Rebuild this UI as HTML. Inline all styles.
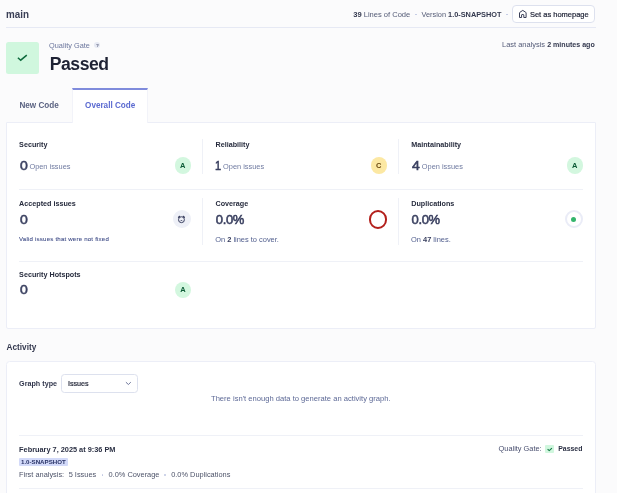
<!DOCTYPE html>
<html><head><meta charset="utf-8">
<style>
*{box-sizing:border-box;margin:0;padding:0}
html,body{width:617px;height:493px;overflow:hidden}
body{background:#fbfbfc;font-family:"Liberation Sans",Arial,sans-serif;color:#2a2f40;position:relative}
#root{position:absolute;left:0;top:0;width:617px;height:493px;will-change:transform}
.a{position:absolute;white-space:nowrap;line-height:1}
.card{position:absolute;background:#fff;border:1px solid #eceef7}
</style></head><body><div id="root">
<div class="a" id="main" style="left:5.9px;top:8.89px;font-size:11px;color:#3a3f56;font-weight:700;transform:scaleX(0.895);transform-origin:0 0;">main</div>
<div class="a" id="loc" style="left:353.2px;top:10.71px;font-size:7.55px;color:#535a75;"><b style="color:#33384e">39</b> Lines of Code</div>
<div class="a" style="left:415.4px;top:13.6px;width:1.6px;height:1.6px;border-radius:50%;background:#bfc6e2"></div>
<div class="a" id="ver" style="left:421.5px;top:10.88px;font-size:7.35px;color:#535a75;">Version <b style="color:#33384e">1.0-SNAPSHOT</b></div>
<div class="a" style="left:506.0px;top:13.6px;width:1.6px;height:1.6px;border-radius:50%;background:#bfc6e2"></div>
<div class="a" style="left:511.9px;top:5.2px;width:83.6px;height:17.9px;border:1px solid #dde1ee;border-radius:4px;background:#fff"></div>
<svg class="a" style="left:516px;top:8px" width="14" height="12" viewBox="0 0 14 12"><path d="M3.5 9.5 V5 Q3.5 4.6 3.8 4.35 L6.8 2.4 L9.8 4.35 Q10.1 4.6 10.1 5 V9.5 H7.8 V7 Q7.8 6.5 7.3 6.5 H6.1 Q5.6 6.5 5.6 7 V9.5 Z" fill="none" stroke="#3a3f58" stroke-width="1" stroke-linejoin="round"/></svg>
<div class="a" id="home" style="left:529.9px;top:10.85px;font-size:7.5px;color:#23273a;-webkit-text-stroke:0.2px #23273a;">Set as homepage</div>
<div class="a" style="left:6px;top:26.5px;width:589.5px;height:1px;background:#e6e9f4"></div>
<div class="a" style="left:6.3px;top:41.8px;width:32.6px;height:32.2px;background:#d0f7de;border-radius:2.5px"></div>
<svg class="a" style="left:16px;top:53px" width="12" height="9" viewBox="0 0 12 9"><path d="M1.9 4.75 L4.7 7.2 L10.8 2.2" fill="none" stroke="#0d6a3c" stroke-width="1.5"/></svg>
<div class="a" id="qg" style="left:49.1px;top:42.09px;font-size:7.34px;color:#6b769d;">Quality Gate</div>
<div class="a" style="left:94.3px;top:42px;width:6px;height:6px;border-radius:50%;background:#e6e9f3"></div>
<div class="a" style="left:96.3px;top:43.84px;font-size:4.2px;color:#4a5070;font-weight:700;">?</div>
<div class="a" id="passed" style="left:49.7px;top:55.50px;font-size:17.6px;color:#1e2234;font-weight:700;letter-spacing:-0.45px;">Passed</div>
<div class="a" id="last" style="left:502.1px;top:41.49px;font-size:7.45px;color:#545b78;">Last analysis <b style="font-size:7.09px;color:#33384e">2 minutes ago</b></div>
<div class="a" id="newcode" style="left:19.4px;top:101.98px;font-size:8.17px;color:#5b6382;font-weight:700;">New Code</div>
<div class="a" style="left:72px;top:88px;width:75.5px;height:35px;background:#fff;border-top:2px solid #7f8bdc;border-left:1px solid #f2f3f9;border-right:1px solid #f2f3f9;z-index:2"></div>
<div class="a" id="overall" style="left:85.1px;top:102.00px;font-size:8.15px;color:#5b6ad1;font-weight:700;z-index:3">Overall Code</div>
<div class="card" style="left:6px;top:122px;width:589.5px;height:206.5px;border-radius:0 0 2px 2px"></div>
<div class="a" style="left:19.1px;top:141.01px;font-size:7.2px;color:#262b3d;font-weight:700;">Security</div>
<div class="a" style="left:19.6px;top:159.00px;font-size:13px;color:#3a4060;-webkit-text-stroke:0.55px #3a4060;transform:scaleX(1.08);transform-origin:0 0;">0</div>
<div class="a" style="left:29.400000000000002px;top:163.44px;font-size:7.4px;color:#6f7aa0;">Open issues</div>
<div class="a" style="left:215.5px;top:141.01px;font-size:7.2px;color:#262b3d;font-weight:700;">Reliability</div>
<div class="a" style="left:215.4px;top:159.00px;font-size:13px;color:#3a4060;-webkit-text-stroke:0.55px #3a4060;transform:scaleX(0.85);transform-origin:0 0;">1</div>
<div class="a" style="left:223.1px;top:163.44px;font-size:7.4px;color:#6f7aa0;">Open issues</div>
<div class="a" style="left:411.2px;top:141.01px;font-size:7.2px;color:#262b3d;font-weight:700;">Maintainability</div>
<div class="a" style="left:411.7px;top:159.00px;font-size:13px;color:#3a4060;-webkit-text-stroke:0.55px #3a4060;transform:scaleX(1.08);transform-origin:0 0;">4</div>
<div class="a" style="left:421.8px;top:163.44px;font-size:7.4px;color:#6f7aa0;">Open issues</div>
<div class="a" style="left:174.6px;top:157.4px;width:16.2px;height:16.2px;border-radius:50%;background:#d3f7df"></div>
<div class="a" style="left:180.1px;top:162.15px;font-size:7.5px;color:#0b5a35;font-weight:700;">A</div>
<div class="a" style="left:370.59999999999997px;top:157.4px;width:16.2px;height:16.2px;border-radius:50%;background:#fce8a3"></div>
<div class="a" style="left:376.09999999999997px;top:162.15px;font-size:7.5px;color:#6a4810;font-weight:700;">C</div>
<div class="a" style="left:566.6px;top:157.4px;width:16.2px;height:16.2px;border-radius:50%;background:#d3f7df"></div>
<div class="a" style="left:572.1px;top:162.15px;font-size:7.5px;color:#0b5a35;font-weight:700;">A</div>
<div class="a" style="left:202.2px;top:139.2px;width:1px;height:34.8px;background:#eff1f7"></div>
<div class="a" style="left:398.2px;top:139.2px;width:1px;height:34.8px;background:#eff1f7"></div>
<div class="a" style="left:19px;top:189px;width:564px;height:1px;background:#eff1f7"></div>
<div class="a" style="left:19.1px;top:200.31px;font-size:7.2px;color:#262b3d;font-weight:700;">Accepted issues</div>
<div class="a" style="left:19.5px;top:213.20px;font-size:13px;color:#3a4060;-webkit-text-stroke:0.55px #3a4060;transform:scaleX(1.08);transform-origin:0 0;">0</div>
<div class="a" style="left:19.05px;top:235.94px;font-size:6.1px;color:#44518a;letter-spacing:0.2px;-webkit-text-stroke:0.1px #44518a;">Valid issues that were not fixed</div>
<div class="a" style="left:172.7px;top:210.3px;width:18px;height:18px;border-radius:50%;background:#eef0f7"></div>
<svg class="a" style="left:174px;top:212px" width="16" height="15" viewBox="0 0 16 15"><circle cx="7.45" cy="7.7" r="2.95" fill="none" stroke="#3a4060" stroke-width="1"/><path d="M4.5 5.3 L5.7 4.3 M10.4 5.3 L9.2 4.3" fill="none" stroke="#3a4060" stroke-width="1.2" stroke-linecap="round"/><path d="M6.6 9.1 L7.45 8.2 L8.3 9.1" fill="none" stroke="#3a4060" stroke-width="0.9"/></svg>
<div class="a" style="left:202.2px;top:198px;width:1px;height:47px;background:#eff1f7"></div>
<div class="a" style="left:215.5px;top:200.11px;font-size:7.2px;color:#262b3d;font-weight:700;">Coverage</div>
<div class="a" style="left:215.8px;top:212.90px;font-size:13px;color:#3a4060;letter-spacing:-0.35px;-webkit-text-stroke:0.55px #3a4060;">0.0%</div>
<div class="a" style="left:215.2px;top:235.99px;font-size:7.45px;color:#53608f;">On <b style="color:#3a4060">2</b> lines to cover.</div>
<div class="a" style="left:368.5px;top:210.2px;width:18.4px;height:18.4px;border-radius:50%;border:2.2px solid #b3201c"></div>
<div class="a" style="left:398.2px;top:198px;width:1px;height:47px;background:#eff1f7"></div>
<div class="a" style="left:411.2px;top:200.11px;font-size:7.2px;color:#262b3d;font-weight:700;">Duplications</div>
<div class="a" style="left:411.5px;top:212.90px;font-size:13px;color:#3a4060;letter-spacing:-0.35px;-webkit-text-stroke:0.55px #3a4060;">0.0%</div>
<div class="a" style="left:411.0px;top:235.99px;font-size:7.45px;color:#53608f;">On <b style="color:#3a4060">47</b> lines.</div>
<div class="a" style="left:565px;top:210.3px;width:18px;height:18px;border-radius:50%;border:2.2px solid #eaecf7"></div>
<div class="a" style="left:571.4px;top:216.7px;width:5.1px;height:5.1px;border-radius:50%;background:#34b56c"></div>
<div class="a" style="left:19px;top:261px;width:564px;height:1px;background:#eff1f7"></div>
<div class="a" style="left:19.1px;top:271.31px;font-size:7.2px;color:#262b3d;font-weight:700;">Security Hotspots</div>
<div class="a" style="left:19.5px;top:283.10px;font-size:13px;color:#3a4060;-webkit-text-stroke:0.55px #3a4060;transform:scaleX(1.08);transform-origin:0 0;">0</div>
<div class="a" style="left:174.8px;top:281.79999999999995px;width:16.2px;height:16.2px;border-radius:50%;background:#d3f7df"></div>
<div class="a" style="left:180.3px;top:285.75px;font-size:7.5px;color:#0b5a35;font-weight:700;">A</div>
<div class="a" id="activity" style="left:6.5px;top:343.82px;font-size:8.25px;color:#33384e;font-weight:700;">Activity</div>
<div class="card" style="left:6px;top:361px;width:589.5px;height:140px;border-radius:3.5px"></div>
<div class="a" style="left:19.1px;top:380.01px;font-size:7.2px;color:#33384e;font-weight:700;">Graph type</div>
<div class="a" style="left:61.1px;top:374.1px;width:76.6px;height:18.9px;border:1px solid #dde1ee;border-radius:3.5px;background:#fff"></div>
<div class="a" style="left:67.9px;top:380.01px;font-size:7.2px;color:#1e2234;-webkit-text-stroke:0.2px #1e2234;">Issues</div>
<svg class="a" style="left:125px;top:381px" width="7" height="5" viewBox="0 0 7 5"><path d="M0.9 1.2 L3.4 3.5 L5.8 1.2" fill="none" stroke="#5f6990" stroke-width="0.9"/></svg>
<div class="a" id="nodata" style="left:211px;top:394.67px;font-size:7.6px;color:#5d6996;">There isn't enough data to generate an activity graph.</div>
<div class="a" style="left:19px;top:435.3px;width:564px;height:1px;background:#eff1f7"></div>
<div class="a" id="date" style="left:19.1px;top:445.98px;font-size:7.35px;color:#2b3044;font-weight:700;">February 7, 2025 at 9:36 PM</div>
<div class="a" style="left:19.1px;top:458px;width:49px;height:7.8px;background:#d3daf9;border-radius:1px"></div>
<div class="a" style="left:21px;top:459.19px;font-size:6.15px;color:#283266;font-weight:700;">1.0-SNAPSHOT</div>
<div class="a" style="left:19.0px;top:471.34px;font-size:7.4px;color:#4d5369;">First analysis:</div>
<div class="a" style="left:68.7px;top:471.34px;font-size:7.4px;color:#4d5369;">5 Issues</div>
<div class="a" style="left:101.6px;top:474.3px;width:1.9px;height:1.9px;border-radius:50%;background:#bfc6e2"></div>
<div class="a" id="cov" style="left:108.5px;top:471.34px;font-size:7.4px;color:#4d5369;">0.0% Coverage</div>
<div class="a" style="left:164.4px;top:474.3px;width:1.9px;height:1.9px;border-radius:50%;background:#bfc6e2"></div>
<div class="a" id="dup" style="left:171.2px;top:471.34px;font-size:7.4px;color:#4d5369;">0.0% Duplications</div>
<div class="a" id="qg2" style="left:498.6px;top:445.24px;font-size:7.39px;color:#4a5070;">Quality Gate:</div>
<div class="a" style="left:545.4px;top:445px;width:8.4px;height:8px;background:#d0f7de;border-radius:1px"></div>
<svg class="a" style="left:545px;top:445px" width="9" height="8" viewBox="0 0 9 8"><path d="M2.6 4.2 L4.3 5.6 L6.9 3.1" fill="none" stroke="#157a47" stroke-width="1.15"/></svg>
<div class="a" id="passed2" style="left:558.2px;top:445.95px;font-size:6.91px;color:#2b3044;font-weight:700;">Passed</div>
<div class="a" style="left:19px;top:488px;width:564px;height:1px;background:#eff1f7"></div>
</div></body></html>
